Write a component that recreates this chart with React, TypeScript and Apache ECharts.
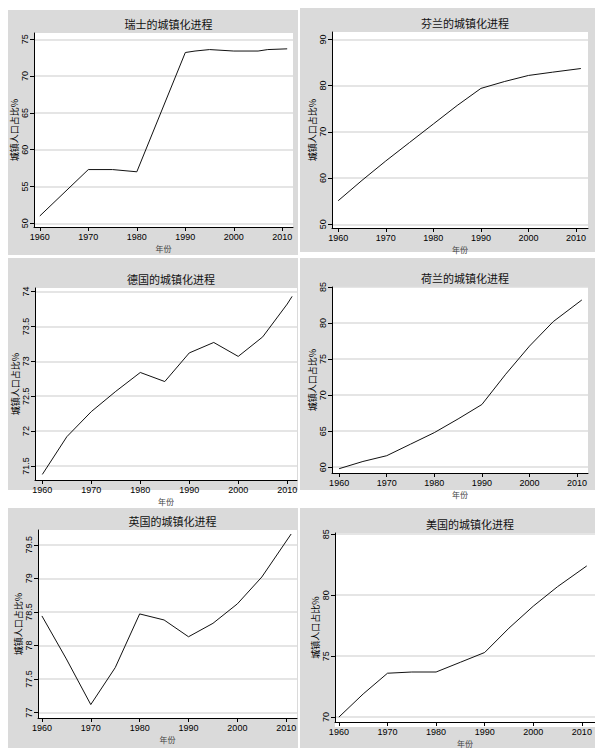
import * as echarts from 'echarts';
import { useEffect, useRef } from 'react';

const swissData = [[1960, 51], [1970, 57.3], [1975, 57.3], [1980, 57.0], [1990, 73.2], [1992, 73.4], [1995, 73.6], [2000, 73.4], [2005, 73.4], [2007, 73.6], [2011, 73.7]];
const finlandData = [[1960, 55.1], [1965, 59.5], [1970, 63.7], [1975, 67.7], [1980, 71.7], [1985, 75.7], [1990, 79.4], [1995, 80.9], [2000, 82.2], [2005, 82.9], [2011, 83.7]];
const germanyData = [[1960, 71.38], [1965, 71.92], [1970, 72.28], [1975, 72.57], [1980, 72.84], [1985, 72.71], [1990, 73.12], [1995, 73.27], [2000, 73.07], [2005, 73.35], [2010, 73.82], [2011, 73.93]];
const netherlandsData = [[1960, 59.8], [1965, 60.8], [1970, 61.6], [1975, 63.2], [1980, 64.8], [1985, 66.7], [1990, 68.7], [1995, 72.9], [2000, 76.8], [2005, 80.2], [2011, 83.2]];
const ukData = [[1960, 78.44], [1965, 77.8], [1970, 77.12], [1975, 77.67], [1980, 78.47], [1985, 78.38], [1990, 78.13], [1995, 78.33], [2000, 78.62], [2005, 79.02], [2011, 79.66]];
const usaData = [[1960, 70.0], [1965, 71.9], [1970, 73.6], [1975, 73.7], [1980, 73.7], [1985, 74.5], [1990, 75.3], [1995, 77.3], [2000, 79.1], [2005, 80.7], [2011, 82.4]];

const xTicks = [1960, 1970, 1980, 1990, 2000, 2010];
const swissTicks = [50, 55, 60, 65, 70, 75];
const finlandTicks = [50, 60, 70, 80, 90];
const germanyTicks = [71.5, 72, 72.5, 73, 73.5, 74];
const netherlandsTicks = [60, 65, 70, 75, 80, 85];
const ukTicks = [77, 77.5, 78, 78.5, 79, 79.5];
const usaTicks = [70, 75, 80, 85];

const panels = [
    { title: '瑞士的城镇化进程', data: swissData, ticks: swissTicks, box: [8, 10, 290, 245], plot: [34, 33, 293, 227], yMin: 49.5, yMax: 75.85, xMin: 1958.8, xMax: 2012.2 },
    { title: '芬兰的城镇化进程', data: finlandData, ticks: finlandTicks, box: [300, 8, 295, 244], plot: [332, 32, 588, 228], yMin: 49.2, yMax: 91.6, xMin: 1958.7, xMax: 2012.5 },
    { title: '德国的城镇化进程', data: germanyData, ticks: germanyTicks, box: [8, 258, 290, 232], plot: [35, 288, 297, 480], yMin: 71.3, yMax: 74.05, xMin: 1958.5, xMax: 2012 },
    { title: '荷兰的城镇化进程', data: netherlandsData, ticks: netherlandsTicks, box: [300, 258, 295, 232], plot: [332, 287, 588, 473], yMin: 59.2, yMax: 85.0, xMin: 1958.5, xMax: 2012.3 },
    { title: '英国的城镇化进程', data: ukData, ticks: ukTicks, box: [8, 508, 290, 240], plot: [38, 530, 297, 718], yMin: 76.92, yMax: 79.72, xMin: 1959.2, xMax: 2012.2 },
    { title: '美国的城镇化进程', data: usaData, ticks: usaTicks, box: [300, 508, 295, 240], plot: [335, 533, 595, 727], yMin: 69.6, yMax: 85.1, xMin: 1959.2, xMax: 2012.7 },
];

const font = 'Liberation Sans';

const App = () => {
    const chartRef = useRef(null);

    useEffect(() => {
        const chart = echarts.init(chartRef.current, null, { renderer: 'svg' });

        const graphic: any[] = [];
        const title: any[] = [];
        const grid: any[] = [];
        const xAxis: any[] = [];
        const yAxis: any[] = [];
        const series: any[] = [];

        panels.forEach((p, i) => {
            const [bx, by, bw, bh] = p.box;
            const [l, t, r, b] = p.plot;
            graphic.push({ type: 'rect', silent: true, z: -10, shape: { x: bx, y: by, width: bw, height: bh }, style: { fill: '#dadada' } });
            graphic.push({ type: 'rect', silent: true, z: -9, shape: { x: l, y: t, width: r - l, height: b - t }, style: { fill: '#ffffff' } });
            title.push({
                text: p.title,
                left: (l + r) / 2,
                top: t - 20,
                textAlign: 'center',
                textStyle: { fontSize: 11, fontWeight: 'normal', color: '#111', fontFamily: 'Noto Sans CJK SC' },
            });
            grid.push({ left: l, top: t, width: r - l, height: b - t });
            xAxis.push({
                type: 'value',
                gridIndex: i,
                min: p.xMin,
                max: p.xMax,
                name: '年份',
                nameLocation: 'middle',
                nameGap: 17,
                nameTextStyle: { fontSize: 8, color: '#444', fontFamily: 'Noto Sans CJK SC' },
                axisLine: { show: true, onZero: false, lineStyle: { color: '#000', width: 1 } },
                axisTick: { show: true, length: 4, customValues: xTicks, lineStyle: { color: '#000' } },
                axisLabel: { customValues: xTicks, formatter: (v: number) => String(v), fontSize: 9, color: '#000', fontFamily: font, margin: 5 },
                splitLine: { show: false },
            });
            yAxis.push({
                type: 'value',
                gridIndex: i,
                min: p.yMin,
                max: p.yMax,
                name: '城镇人口占比%',
                nameLocation: 'middle',
                nameGap: 12,
                nameTextStyle: { fontSize: 9, color: '#000', fontFamily: 'Noto Sans CJK SC' },
                axisLine: { show: true, onZero: false, lineStyle: { color: '#000', width: 1 } },
                axisTick: { show: true, length: 4, customValues: p.ticks, lineStyle: { color: '#000' } },
                axisLabel: { customValues: p.ticks, formatter: (v: number) => String(v), rotate: 90, fontSize: 9, color: '#000', fontFamily: font, margin: 5 },
                splitLine: { show: true, lineStyle: { color: '#dcdcdc', width: 1.5 } },
            });
            series.push({
                type: 'line',
                xAxisIndex: i,
                yAxisIndex: i,
                data: p.data,
                showSymbol: false,
                lineStyle: { color: '#111', width: 1 },
            });
        });

        chart.setOption({
            animation: false,
            backgroundColor: '#ffffff',
            graphic,
            title,
            grid,
            xAxis,
            yAxis,
            series,
        });

        return () => {
            chart.dispose();
        };
    }, []);

    return <div ref={chartRef} style={{ position: 'absolute', left: 0, top: 0, width: '595px', height: '748px' }} />;
};

export default App;
